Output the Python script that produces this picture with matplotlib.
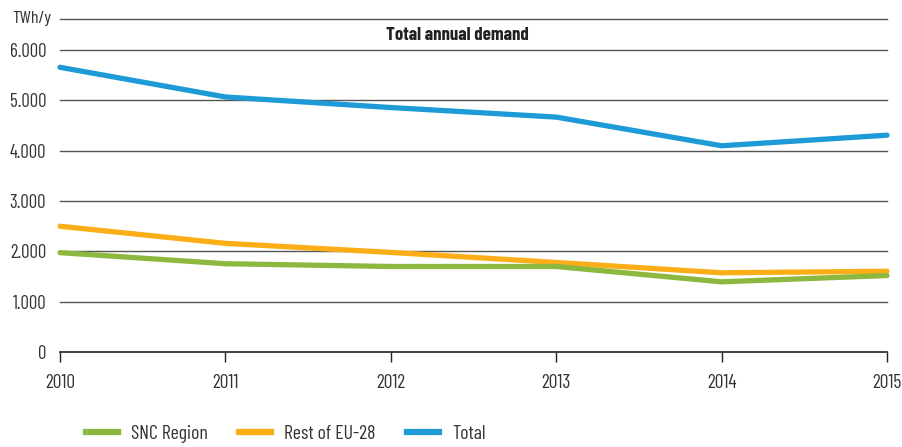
import matplotlib
matplotlib.use("Agg")
import matplotlib.pyplot as plt
from matplotlib.lines import Line2D

plt.rcParams['font.family'] = ['Barlow Condensed', 'DejaVu Sans']

years = [2010, 2011, 2012, 2013, 2014, 2015]
snc_region = [1975, 1755, 1700, 1700, 1395, 1520]
rest_eu28 = [2500, 2160, 1980, 1780, 1575, 1605]
total = [5660, 5070, 4860, 4670, 4100, 4310]
y_ticks = [0, 1000, 2000, 3000, 4000, 5000, 6000]
y_tick_labels = ["0", "1.000", "2.000", "3.000", "4.000", "5.000", "6.000"]

c_green = "#8DB83F"
c_orange = "#FBAE17"
c_blue = "#1E9AD6"
txt = "#333333"

W, H = 903, 447
fig = plt.figure(figsize=(W / 100, H / 100), dpi=100)
ax = fig.add_axes([60 / W, (H - 352) / H, (887 - 60) / W, (352 - 19) / H])

ax.set_xlim(years[0], years[-1])
ax.set_ylim(0, 6620)

for v in y_ticks[1:] + [6620]:
    ax.axhline(v, color="#555555", lw=1.0, zorder=1, clip_on=False)

ax.plot(years, snc_region, color=c_green, lw=3.8, solid_capstyle="round", zorder=3, clip_on=False)
ax.plot(years, rest_eu28, color=c_orange, lw=3.8, solid_capstyle="round", zorder=2, clip_on=False)
ax.plot(years, total, color=c_blue, lw=3.8, solid_capstyle="round", zorder=3, clip_on=False)

for s in ["top", "right", "left"]:
    ax.spines[s].set_visible(False)
ax.spines["bottom"].set_color("#222222")
ax.spines["bottom"].set_linewidth(1.2)

ax.set_xticks(years)
ax.set_xticklabels([str(y) for y in years], fontsize=14, color=txt)
ax.tick_params(axis="x", direction="out", length=7, width=1.0, color="#222222", pad=9)
ax.set_yticks(y_ticks)
ax.set_yticklabels(y_tick_labels, fontsize=13.5, color=txt)
ax.tick_params(axis="y", length=0, pad=10)

fig.text(52 / W, 1 - 18 / H, "TWh/y", ha="right", va="center", fontsize=13, color=txt)
fig.text(457 / W, 1 - 35 / H, "Total annual demand", ha="center", va="center",
         fontsize=13.5, fontweight="bold", color="#222222")

handles = [Line2D([], [], color=c_green, lw=4.5),
           Line2D([], [], color=c_orange, lw=4.5),
           Line2D([], [], color=c_blue, lw=4.5)]
labels = ["SNC Region", "Rest of EU-28", "Total"]
leg = fig.legend(handles, labels, loc="center left", bbox_to_anchor=(86 / W, 1 - 434 / H),
                 ncol=3, frameon=False, fontsize=14.3, handlelength=1.6, handletextpad=0.65,
                 columnspacing=1.6, borderaxespad=0, borderpad=0)
for t in leg.get_texts():
    t.set_color(txt)

fig.savefig("out.png", dpi=100)
